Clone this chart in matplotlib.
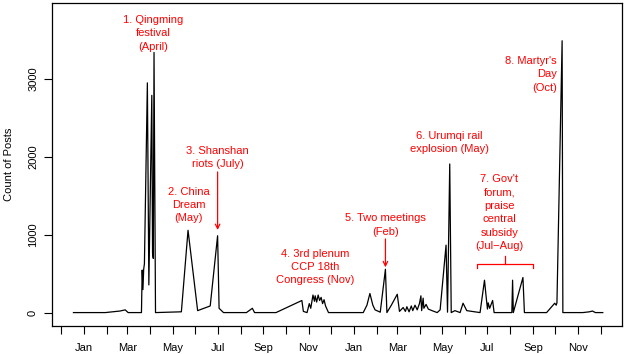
import numpy as np
import matplotlib
matplotlib.use("Agg")
import matplotlib.pyplot as plt
import matplotlib.dates as mdates
from matplotlib.ticker import FuncFormatter, FixedLocator

plt.rcParams['font.family'] = ['Liberation Sans', 'DejaVu Sans']

# daily post counts
dates = [
    "2012-12-18", "2013-01-30", "2013-02-19", "2013-02-26", "2013-03-02", "2013-03-20",
    "2013-03-21", "2013-03-22", "2013-03-23", "2013-03-24", "2013-03-28", "2013-03-30",
    "2013-04-03", "2013-04-04", "2013-04-05", "2013-04-06", "2013-04-08",
    "2013-05-13", "2013-05-22", "2013-06-04", "2013-06-21", "2013-07-01", "2013-07-03",
    "2013-07-09", "2013-08-09", "2013-08-17", "2013-08-20", "2013-09-18", "2013-10-23",
    "2013-10-25", "2013-10-30", "2013-11-02", "2013-11-04", "2013-11-07", "2013-11-09",
    "2013-11-10", "2013-11-12", "2013-11-14", "2013-11-16", "2013-11-18", "2013-11-20",
    "2013-11-22", "2013-11-24", "2013-11-28", "2014-01-14", "2014-01-19", "2014-01-23",
    "2014-01-27", "2014-01-30", "2014-02-06", "2014-02-13", "2014-02-15", "2014-02-21",
    "2014-03-01", "2014-03-04", "2014-03-09", "2014-03-12", "2014-03-14", "2014-03-17",
    "2014-03-20", "2014-03-22", "2014-03-25", "2014-03-28", "2014-03-31", "2014-04-02",
    "2014-04-03", "2014-04-05", "2014-04-06", "2014-04-09", "2014-04-12", "2014-04-17",
    "2014-04-24", "2014-04-28", "2014-05-06", "2014-05-08", "2014-05-11", "2014-05-13",
    "2014-05-18", "2014-05-25", "2014-05-29", "2014-06-03", "2014-06-21", "2014-06-27",
    "2014-06-29", "2014-07-01", "2014-07-02", "2014-07-04", "2014-07-08", "2014-07-10",
    "2014-08-03", "2014-08-04", "2014-08-05", "2014-08-18", "2014-08-20", "2014-09-19",
    "2014-09-30", "2014-10-02", "2014-10-03", "2014-10-10", "2014-10-11", "2014-11-07",
    "2014-11-16", "2014-11-20", "2014-11-24", "2014-12-04",
]
counts = [
    5, 5, 25, 40, 5, 5,
    550, 300, 560, 630, 2950, 360,
    2790, 770, 700, 3340, 5,
    15, 1060, 30, 90, 990, 60,
    5, 5, 60, 5, 5, 160,
    20, 5, 120, 60, 230, 150,
    220, 140, 230, 160, 200, 120,
    170, 90, 5, 5, 100, 250,
    100, 40, 10, 560, 5, 100,
    240, 20, 70, 20, 80, 15,
    90, 30, 100, 40, 120, 220,
    30, 190, 60, 110, 50, 30,
    5, 40, 870, 10, 1910, 5,
    30, 5, 125, 30, 5, 420,
    230, 50, 130, 60, 160, 5,
    5, 420, 5, 455, 5, 5,
    125, 100, 130, 3490, 5, 5,
    15, 25, 5, 5,
]

# event labels: (text, date, y, horizontal alignment)
events = [
    ("1. Qingming\nfestival\n(April)", "2013-04-05", 3586, "center"),
    ("2. China\nDream\n(May)", "2013-05-23", 1385, "center"),
    ("3. Shanshan\nriots (July)", "2013-07-01", 1994, "center"),
    ("4. 3rd plenum\nCCP 18th\nCongress (Nov)", "2013-11-10", 590, "center"),
    ("5. Two meetings\n(Feb)", "2014-02-13", 1128, "center"),
    ("6. Urumqi rail\nexplosion (May)", "2014-05-10", 2183, "center"),
    ("7. Gov't\nforum,\npraise\ncentral\nsubsidy\n(Jul\u2212Aug)", "2014-07-17", 1286, "center"),
    ("8. Martyr's\nDay\n(Oct)", "2014-10-03", 3060, "right"),
]
# arrows: (date, y from, y to)
arrows = [("2013-07-01", 1808, 1064), ("2014-02-13", 949, 586)]
# bracket for event 7
bracket_start, bracket_end = "2014-06-17", "2014-09-01"
bracket_y, bracket_lo, bracket_hi = 628, 577, 730

x = np.array(dates, dtype="datetime64[D]")
y = np.array(counts)

fig = plt.figure(figsize=(6.28, 3.54), dpi=100)
ax = fig.add_axes([52 / 628, 28 / 354, 570 / 628, 323 / 354])
ax.plot(x, y, color="black", lw=0.9)

red = "#ff0000"
for txt, d, yy, ha in events:
    ax.text(np.datetime64(d), yy, txt, color=red, ha=ha, va="center",
            fontsize=8, linespacing=1.42)
for d, y0, y1 in arrows:
    ax.annotate("", xy=(np.datetime64(d), y1), xytext=(np.datetime64(d), y0),
                arrowprops=dict(arrowstyle="->", color=red, lw=0.9,
                                mutation_scale=8, shrinkA=0, shrinkB=0))
b0, b1 = np.datetime64(bracket_start), np.datetime64(bracket_end)
bm = b0 + (b1 - b0) // 2
ax.plot([b0, b0, b1, b1], [bracket_lo, bracket_y, bracket_y, bracket_lo], color=red, lw=0.9)
ax.plot([bm, bm], [bracket_y, bracket_hi], color=red, lw=0.9)

ax.set_xlim(np.datetime64("2012-11-19"), np.datetime64("2014-12-30"))
ax.set_ylim(-167, 3974)

ax.xaxis.set_major_locator(mdates.MonthLocator())
ax.xaxis.set_major_formatter(FuncFormatter(
    lambda v, p: mdates.num2date(v).strftime("%b") if mdates.num2date(v).month % 2 == 1 else ""))
ax.yaxis.set_major_locator(FixedLocator([0, 1000, 2000, 3000]))
ax.tick_params(axis="both", direction="out", length=6, width=0.8, labelsize=8)
ax.tick_params(axis="x", pad=6)
ax.tick_params(axis="y", pad=4)
for lab in ax.get_yticklabels():
    lab.set_rotation(90)
    lab.set_va("center")
ax.set_ylabel("Count of Posts", fontsize=8, labelpad=10)
for s in ax.spines.values():
    s.set_linewidth(0.9)

fig.savefig("out.png", dpi=100)
